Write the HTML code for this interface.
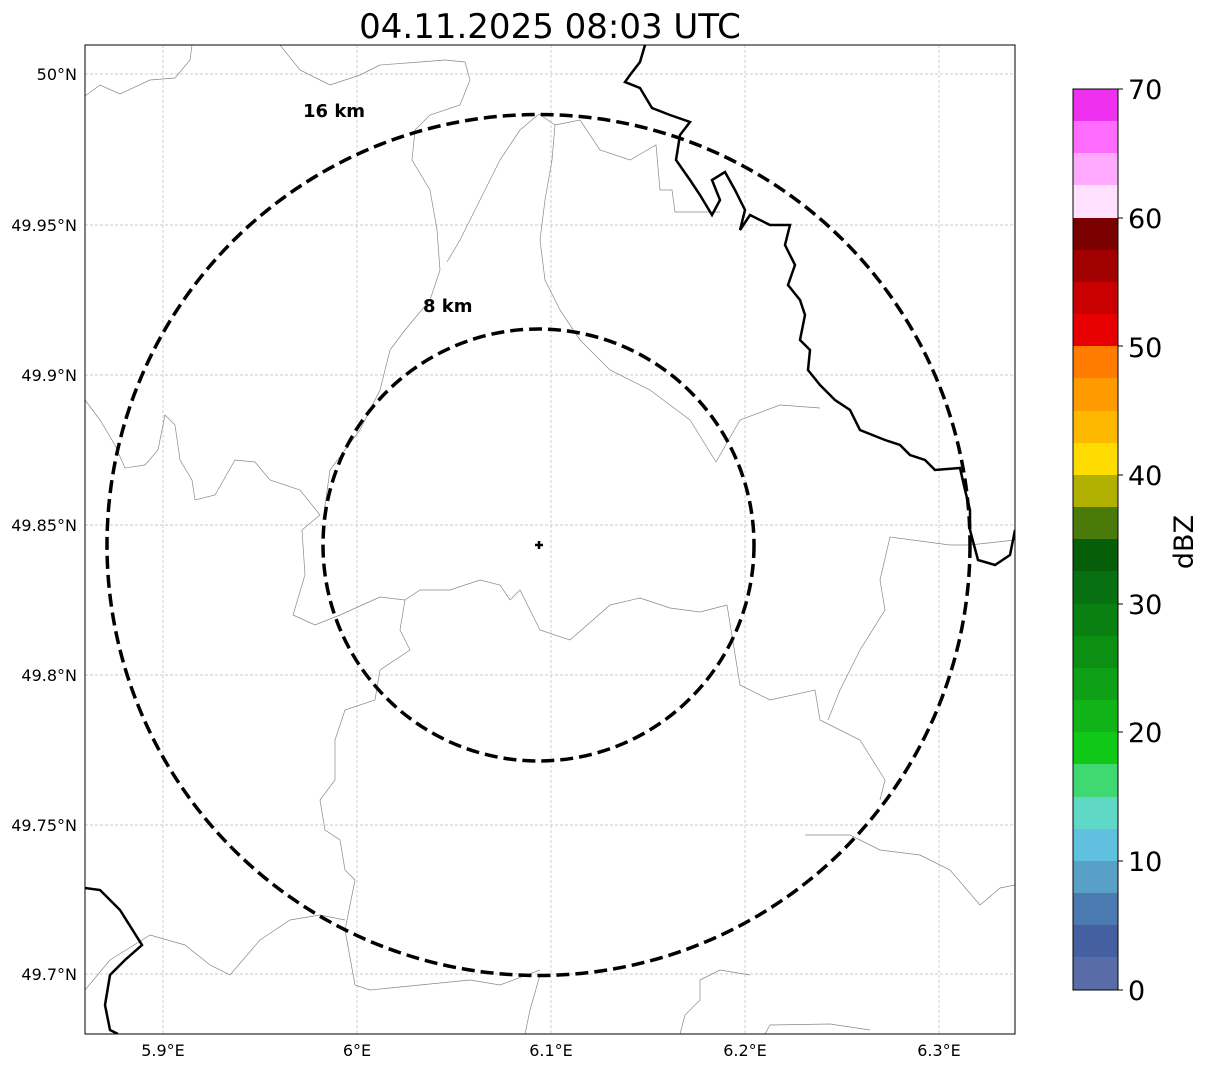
<!DOCTYPE html>
<html><head><meta charset="utf-8"><style>
body{margin:0;background:#fff;}
svg{display:block;font-family:"DejaVu Sans","Liberation Sans",sans-serif;}
</style></head><body>
<svg width="1207" height="1069" viewBox="0 0 1207 1069" xmlns="http://www.w3.org/2000/svg">
<rect width="1207" height="1069" fill="#fff"/>
<text x="550" y="38" font-size="34" text-anchor="middle">04.11.2025 08:03 UTC</text>
<defs><clipPath id="c"><rect x="85" y="45" width="930" height="989"/></clipPath></defs>
<g stroke="#bbb" stroke-width="0.7" stroke-dasharray="3,2">
<line x1="163" y1="45" x2="163" y2="1034"/><line x1="357" y1="45" x2="357" y2="1034"/><line x1="551" y1="45" x2="551" y2="1034"/><line x1="745" y1="45" x2="745" y2="1034"/><line x1="939" y1="45" x2="939" y2="1034"/>
<line x1="85" y1="74" x2="1015" y2="74"/><line x1="85" y1="225" x2="1015" y2="225"/><line x1="85" y1="375" x2="1015" y2="375"/><line x1="85" y1="525" x2="1015" y2="525"/><line x1="85" y1="675" x2="1015" y2="675"/><line x1="85" y1="825" x2="1015" y2="825"/><line x1="85" y1="974" x2="1015" y2="974"/>
</g>
<g clip-path="url(#c)" fill="none">
<g stroke="#888" stroke-width="0.7">
<path d="M85,96 L100,85 L120,94 L150,80 L175,78 L190,60 L192,45"/>
<path d="M280,45 L300,70 L330,85 L360,75 L380,65 L420,62 L445,60 L465,62 L470,80 L460,105 L430,115 L415,130 L412,160 L430,190 L437,230 L440,270 L430,300 L405,330 L390,350 L380,390 L360,430 L330,470 L323,520"/>
<path d="M539,114 L520,130 L500,160 L480,200 L460,240 L447,262"/>
<path d="M539,114 L555,125 L552,160 L545,200 L540,240 L545,280 L560,310 L580,340 L610,370 L650,390 L690,420 L716,462 L740,420 L780,405 L820,408"/>
<path d="M555,125 L580,120 L600,150 L630,160 L656,145 L660,190 L672,190 L675,212 L720,212"/>
<path d="M85,400 L100,420 L115,445 L125,468 L145,465 L158,450 L165,415 L175,425 L180,460 L192,480 L195,500 L215,495 L235,460 L255,462 L270,480 L300,490 L320,515 L302,530 L305,575 L293,615 L315,625 L340,615 L380,597 L405,600 L420,590 L450,590 L480,580 L500,585 L510,600 L520,590 L540,630 L570,640 L610,605 L640,598 L670,608 L700,612 L727,605"/>
<path d="M405,600 L400,630 L410,650 L380,670 L375,700 L345,710 L335,740 L335,780 L320,800 L325,830 L340,840 L345,870 L355,880 L345,930 L355,985 L370,990 L420,985 L470,980 L500,985 L540,970"/>
<path d="M85,990 L110,960 L150,935 L185,945 L210,965 L230,975 L260,940 L290,920 L320,915 L345,920"/>
<path d="M525,1034 L530,1010 L540,975"/>
<path d="M680,1034 L685,1015 L700,1000 L700,980 L720,970 L750,975"/>
<path d="M765,1034 L770,1025 L830,1024 L870,1030"/>
<path d="M727,605 L740,685 L770,700 L815,690 L820,720 L860,740 L885,780 L880,800"/>
<path d="M1015,540 L970,545 L950,545 L890,537 L880,580 L885,610 L860,650 L840,690 L828,720"/>
<path d="M805,835 L850,835 L880,850 L920,855 L950,870 L980,905 L1000,888 L1015,885"/>
</g>
<g stroke="#000" stroke-width="2.5">
<path d="M645,45 L640,62 L630,75 L625,82 L640,88 L652,108 L670,115 L690,122 L680,135 L676,160 L690,180 L700,195 L712,215 L720,200 L712,180 L725,172 L735,190 L745,210 L740,230 L750,215 L770,225 L790,225 L785,245 L795,265 L788,285 L800,300 L805,315 L800,340 L810,350 L808,370 L820,385 L835,400 L850,410 L860,430 L885,440 L900,445 L910,455 L925,460 L935,470 L960,468 L965,490 L970,510 L970,530 L978,560 L995,565 L1010,555 L1015,530"/>
<path d="M85,888 L100,890 L120,910 L142,945 L125,960 L110,975 L105,1005 L110,1030 L118,1034"/>
</g>
</g>
<g fill="none" stroke="#000" stroke-width="3.5" stroke-dasharray="13,6">
<ellipse cx="538.5" cy="545" rx="431.5" ry="430.5"/>
<ellipse cx="538.5" cy="545" rx="215.5" ry="216"/>
</g>
<path d="M535,545 H543 M539,541 V549" stroke="#000" stroke-width="2.5"/>
<text x="303" y="117" font-size="18" font-weight="bold">16 km</text>
<text x="423" y="312" font-size="18" font-weight="bold">8 km</text>
<rect x="85" y="45" width="930" height="989" fill="none" stroke="#000" stroke-width="1"/>
<g font-size="16" text-anchor="middle">
<text x="163" y="1056">5.9°E</text><text x="357" y="1056">6°E</text><text x="551" y="1056">6.1°E</text><text x="745" y="1056">6.2°E</text><text x="939" y="1056">6.3°E</text>
</g>
<g font-size="16" text-anchor="end">
<text x="77" y="80">50°N</text><text x="77" y="231">49.95°N</text><text x="77" y="381">49.9°N</text><text x="77" y="531">49.85°N</text><text x="77" y="681">49.8°N</text><text x="77" y="831">49.75°N</text><text x="77" y="980">49.7°N</text>
</g>
<g>
<rect x="1073" y="89" width="45" height="33" fill="#f030f0"/>
<rect x="1073" y="121" width="45" height="33" fill="#ff6cff"/>
<rect x="1073" y="153" width="45" height="33" fill="#ffaaff"/>
<rect x="1073" y="185" width="45" height="33" fill="#ffe0ff"/>
<rect x="1073" y="218" width="45" height="33" fill="#7a0000"/>
<rect x="1073" y="250" width="45" height="33" fill="#a00000"/>
<rect x="1073" y="282" width="45" height="33" fill="#c80000"/>
<rect x="1073" y="314" width="45" height="33" fill="#e80000"/>
<rect x="1073" y="346" width="45" height="33" fill="#ff7c00"/>
<rect x="1073" y="378" width="45" height="33" fill="#ff9a00"/>
<rect x="1073" y="411" width="45" height="33" fill="#ffb800"/>
<rect x="1073" y="443" width="45" height="33" fill="#ffdc00"/>
<rect x="1073" y="475" width="45" height="33" fill="#b0b000"/>
<rect x="1073" y="507" width="45" height="33" fill="#4a7a0a"/>
<rect x="1073" y="539" width="45" height="33" fill="#055f0a"/>
<rect x="1073" y="571" width="45" height="33" fill="#077010"/>
<rect x="1073" y="604" width="45" height="33" fill="#0a8012"/>
<rect x="1073" y="636" width="45" height="33" fill="#0c9014"/>
<rect x="1073" y="668" width="45" height="33" fill="#0ea016"/>
<rect x="1073" y="700" width="45" height="33" fill="#10b418"/>
<rect x="1073" y="732" width="45" height="33" fill="#10c818"/>
<rect x="1073" y="764" width="45" height="33" fill="#40d870"/>
<rect x="1073" y="797" width="45" height="33" fill="#60d8c8"/>
<rect x="1073" y="829" width="45" height="33" fill="#60c0e0"/>
<rect x="1073" y="861" width="45" height="33" fill="#58a0c8"/>
<rect x="1073" y="893" width="45" height="33" fill="#4a7ab0"/>
<rect x="1073" y="925" width="45" height="33" fill="#4460a0"/>
<rect x="1073" y="957" width="45" height="33" fill="#5a6ca8"/>
<rect x="1073" y="89" width="45" height="901" fill="none" stroke="#000" stroke-width="1"/>
</g>
<g font-size="27">
<text x="1128" y="99">70</text><text x="1128" y="228">60</text><text x="1128" y="357">50</text><text x="1128" y="485">40</text><text x="1128" y="614">30</text><text x="1128" y="742">20</text><text x="1128" y="871">10</text><text x="1128" y="1000">0</text>
</g>
<g stroke="#000"><line x1="1118" y1="89" x2="1123" y2="89"/><line x1="1118" y1="218" x2="1123" y2="218"/><line x1="1118" y1="346" x2="1123" y2="346"/><line x1="1118" y1="475" x2="1123" y2="475"/><line x1="1118" y1="604" x2="1123" y2="604"/><line x1="1118" y1="732" x2="1123" y2="732"/><line x1="1118" y1="861" x2="1123" y2="861"/><line x1="1118" y1="990" x2="1123" y2="990"/></g>
<text x="1193" y="542" font-size="27" text-anchor="middle" transform="rotate(-90 1193 542)">dBZ</text>
</svg>
</body></html>
